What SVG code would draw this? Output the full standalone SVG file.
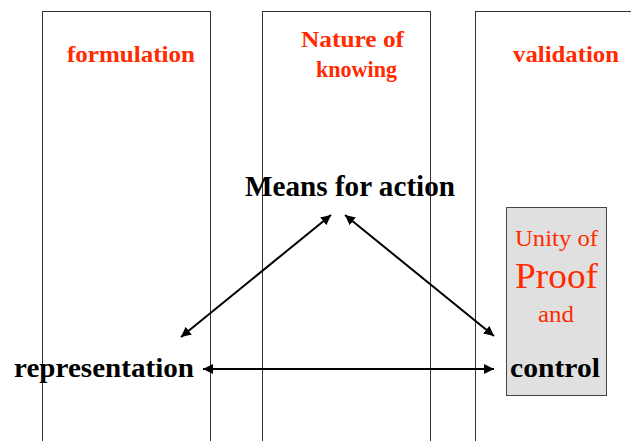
<svg xmlns="http://www.w3.org/2000/svg" width="631" height="441" viewBox="0 0 631 441">
<defs>
<marker id="ah" viewBox="0 0 10 10" refX="10" refY="5" markerWidth="10" markerHeight="10" markerUnits="userSpaceOnUse" orient="auto-start-reverse">
<path d="M0,0 L10,5 L0,10 z" fill="#000"/>
</marker>
<style>
.col{fill:#fff;stroke:#333;stroke-width:1}
.h{font-family:"Liberation Serif",serif;font-weight:bold;font-size:24px;fill:#ff2a00}
.b{font-family:"Liberation Serif",serif;font-weight:bold;fill:#000}
.r{font-family:"Liberation Serif",serif;fill:#ff2a00}
.c{stroke:#000;stroke-width:2;fill:none;marker-start:url(#ah);marker-end:url(#ah)}
</style>
</defs>
<rect width="631" height="441" fill="#fff"/>
<g id="col-formulation">
<rect class="col" x="42.5" y="11.5" width="168" height="440"/>
<text class="h" x="67" y="62" textLength="128" lengthAdjust="spacingAndGlyphs">formulation</text>
</g>
<g id="col-nature">
<rect class="col" x="262.5" y="11.5" width="168" height="440"/>
<text class="h" x="301" y="47" textLength="103" lengthAdjust="spacingAndGlyphs">Nature of</text>
<text class="h" x="316" y="77" textLength="81" lengthAdjust="spacingAndGlyphs">knowing</text>
</g>
<g id="col-validation">
<rect class="col" x="475.5" y="11.5" width="170" height="440"/>
<text class="h" x="513" y="62" textLength="106" lengthAdjust="spacingAndGlyphs">validation</text>
</g>
<g id="unity-box">
<rect x="506.5" y="207.5" width="100" height="188" fill="#e0e0e0" stroke="#444" stroke-width="1"/>
<text class="r" x="515" y="246" font-size="24" textLength="83" lengthAdjust="spacingAndGlyphs">Unity of</text>
<text class="r" x="515" y="288" font-size="36" textLength="83" lengthAdjust="spacingAndGlyphs">Proof</text>
<text class="r" x="538" y="322" font-size="24" textLength="36" lengthAdjust="spacingAndGlyphs">and</text>
</g>
<g id="means">
<text class="b" x="245" y="196" font-size="30" textLength="210" lengthAdjust="spacingAndGlyphs">Means for action</text>
</g>
<g id="representation">
<text class="b" x="14" y="377" font-size="27" textLength="180" lengthAdjust="spacingAndGlyphs">representation</text>
</g>
<g id="control">
<text class="b" x="510" y="377" font-size="27" textLength="90" lengthAdjust="spacingAndGlyphs">control</text>
</g>
<g id="connectors">
<line class="c" x1="181" y1="337" x2="331" y2="215"/>
<line class="c" x1="345" y1="215" x2="494" y2="336"/>
<line class="c" x1="203" y1="369" x2="494" y2="369"/>
</g>
</svg>
